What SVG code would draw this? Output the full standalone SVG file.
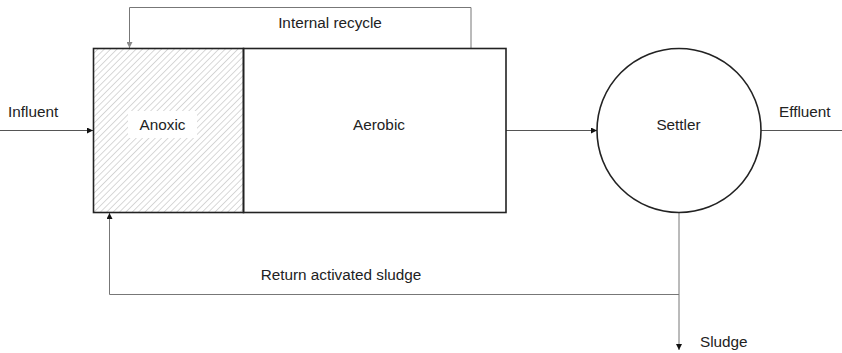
<svg xmlns="http://www.w3.org/2000/svg" width="842" height="353" viewBox="0 0 842 353">
  <style>
    .lbl { font-family: "Liberation Sans", Arial, sans-serif; font-size: 15.3px; fill: #222; }
    .unit { fill: none; stroke: #222; stroke-width: 1.6; }
    .flow { fill: none; stroke: #777; stroke-width: 1; }
    .flow-dark { fill: none; stroke: #555; stroke-width: 1; }
  </style>
  <defs>
    <pattern id="hatch" patternUnits="userSpaceOnUse" width="4.5" height="4.5" patternTransform="rotate(45)">
      <line x1="0" y1="0" x2="0" y2="4.5" stroke="#b8b8b8" stroke-width="1.1"/>
    </pattern>
    <marker id="arrow" viewBox="0 0 8 8" refX="8" refY="4" markerWidth="6" markerHeight="6" orient="auto" markerUnits="userSpaceOnUse">
      <path d="M0,0 L8,4 L0,8 z" fill="#111"/>
    </marker>
    <marker id="arrow-grey" viewBox="0 0 8 8" refX="8" refY="4" markerWidth="6" markerHeight="6" orient="auto" markerUnits="userSpaceOnUse">
      <path d="M0,0 L8,4 L0,8 z" fill="#888"/>
    </marker>
  </defs>

  <rect width="842" height="353" fill="#fff"/>

  <!-- connectors -->
  <g id="connectors">
    <!-- influent -->
    <path class="flow-dark" d="M0,130.5 H93" marker-end="url(#arrow)"/>
    <!-- internal recycle -->
    <path class="flow" d="M471,48 V7.5 H129.5 V48" marker-end="url(#arrow-grey)"/>
    <!-- reactor to settler -->
    <path class="flow-dark" d="M506,130.5 H597" marker-end="url(#arrow)"/>
    <!-- effluent -->
    <path class="flow-dark" d="M761,130.5 H842"/>
    <!-- underflow: waste sludge -->
    <path class="flow" d="M679,213 V350" marker-end="url(#arrow)"/>
    <!-- return activated sludge -->
    <path class="flow" d="M679,294.5 H109.5 V213" marker-end="url(#arrow)"/>
  </g>

  <!-- reactor: anoxic zone -->
  <g id="anoxic">
    <rect x="93.5" y="48.5" width="150" height="164" fill="url(#hatch)"/>
    <rect x="128" y="111" width="69" height="27" fill="#fff"/>
    <rect class="unit" x="93.5" y="48.5" width="150" height="164"/>
    <text class="lbl" x="162.5" y="130" text-anchor="middle">Anoxic</text>
  </g>

  <!-- reactor: aerobic zone -->
  <g id="aerobic">
    <rect class="unit" x="243.5" y="48.5" width="262.5" height="164"/>
    <text class="lbl" x="379" y="129.5" text-anchor="middle">Aerobic</text>
  </g>

  <!-- settler -->
  <g id="settler">
    <circle class="unit" cx="679" cy="130.5" r="82" fill="#fff"/>
    <text class="lbl" x="678.5" y="130" text-anchor="middle">Settler</text>
  </g>

  <!-- stream labels -->
  <g id="labels">
    <text class="lbl" x="8" y="117">Influent</text>
    <text class="lbl" x="330" y="28" text-anchor="middle">Internal recycle</text>
    <text class="lbl" x="779" y="117">Effluent</text>
    <text class="lbl" x="341" y="280" text-anchor="middle">Return activated sludge</text>
    <text class="lbl" x="700" y="347">Sludge</text>
  </g>
</svg>
